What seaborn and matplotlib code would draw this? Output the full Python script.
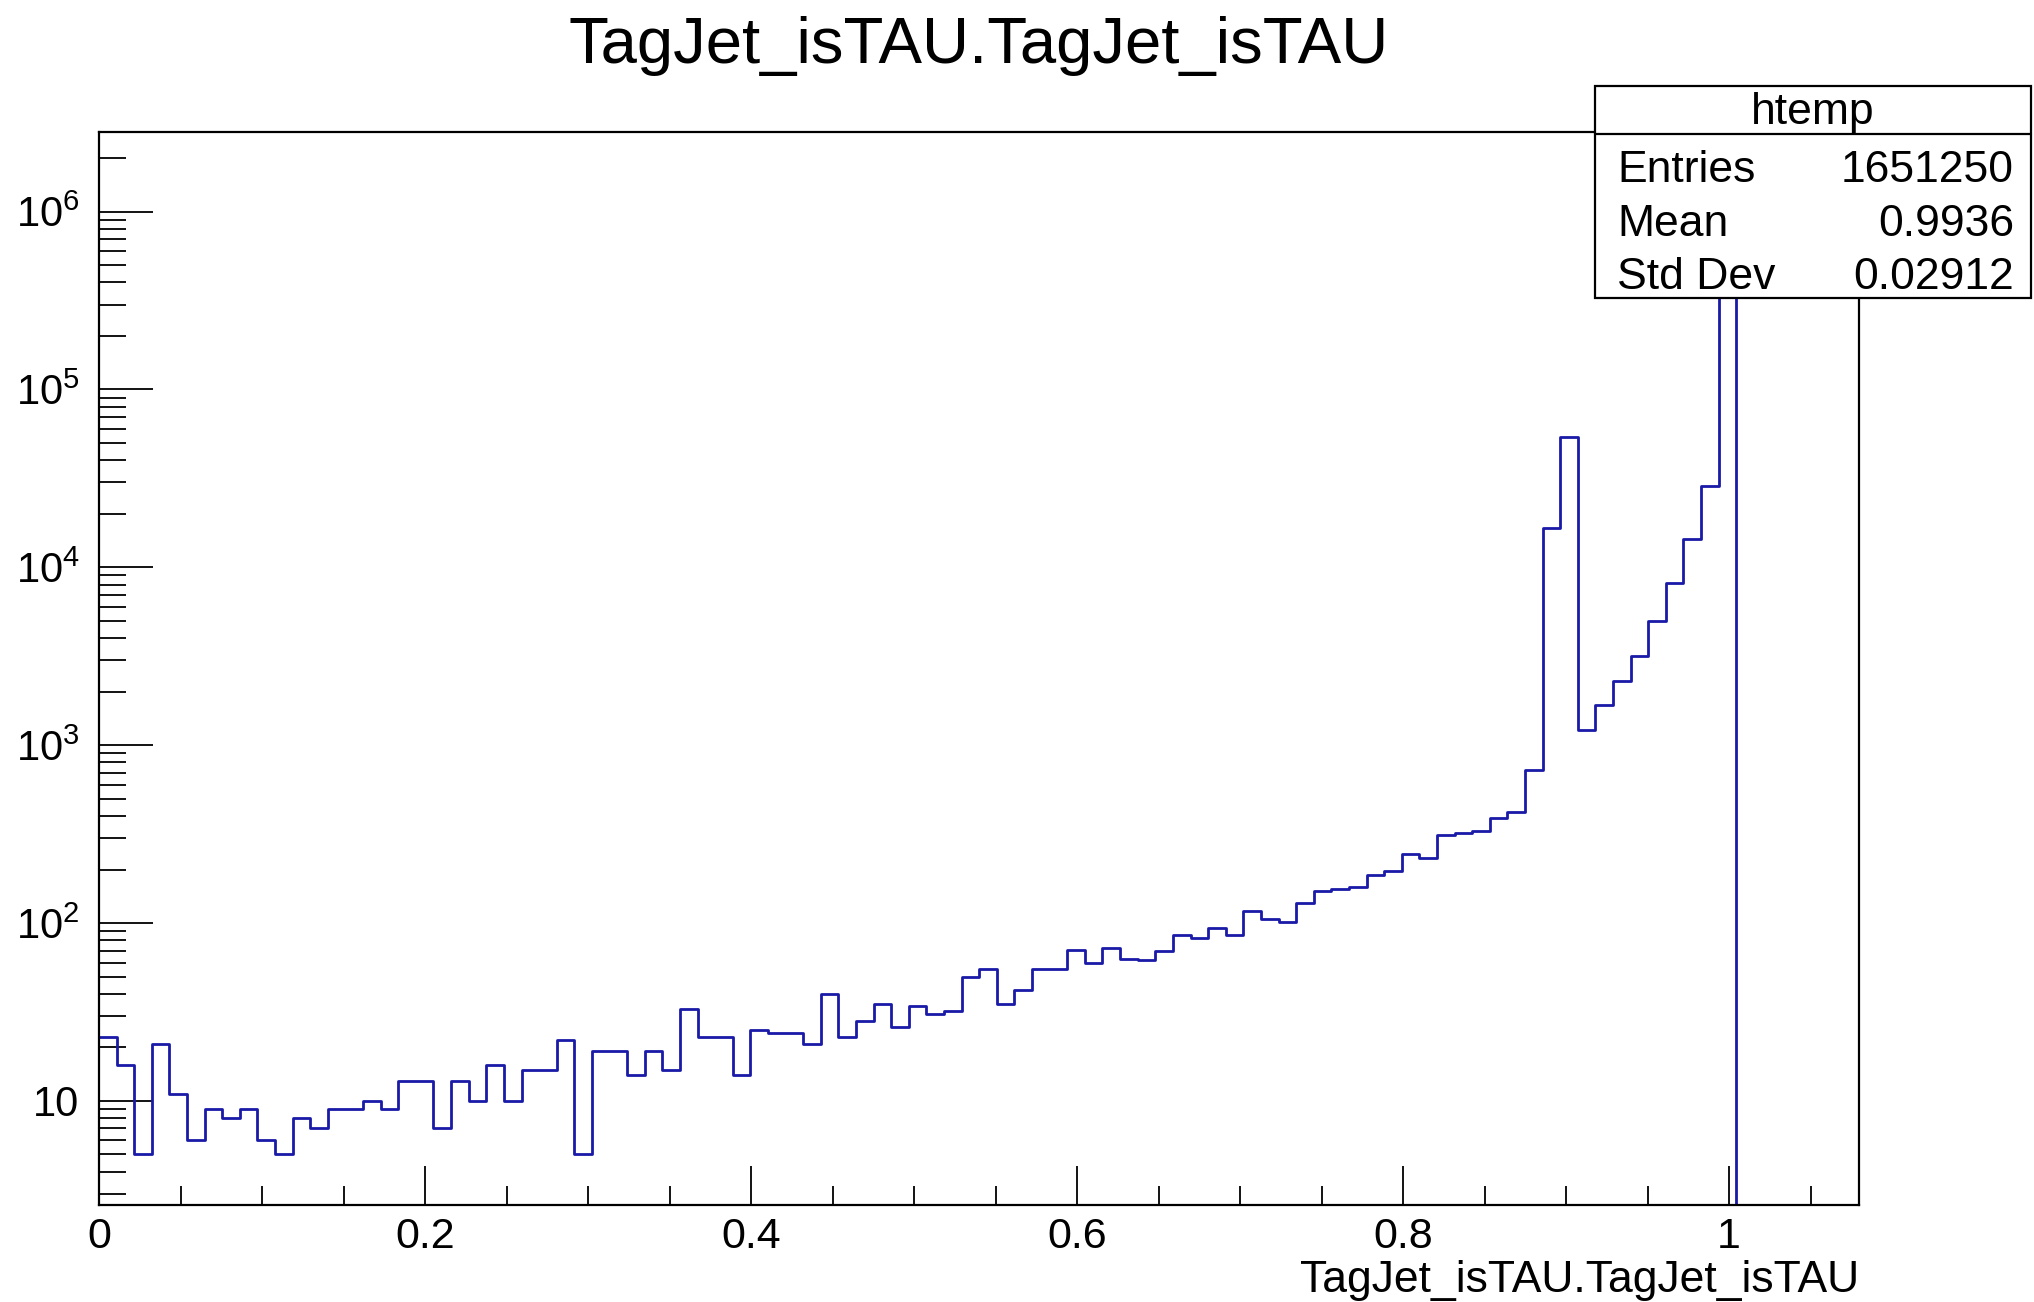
import numpy as np
import pandas as pd
import matplotlib
matplotlib.use("Agg")
import matplotlib.pyplot as plt
from matplotlib.patches import Rectangle
from matplotlib.ticker import FixedLocator, FixedFormatter, LogLocator, NullFormatter, MultipleLocator
import seaborn as sns

# ---------------- data ----------------
title = "TagJet_isTAU.TagJet_isTAU"
x_label = "TagJet_isTAU.TagJet_isTAU"
hist_name = "htemp"
stat_names = ["Entries", "Mean", "Std Dev"]
stat_values = ["1651250", "0.9936", "0.02912"]

n_bins = 100
x_min = 0.0
x_max = 1.08

counts = [
    23, 16, 5, 21, 11, 6, 9, 8, 9, 6,
    5, 8, 7, 9, 9, 10, 9, 13, 13, 7,
    13, 10, 16, 10, 15, 15, 22, 5, 19, 19,
    14, 19, 15, 33, 23, 23, 14, 25, 24, 24,
    21, 40, 23, 28, 35, 26, 34, 31, 32, 50,
    55, 35, 42, 55, 55, 71, 60, 72, 63, 62,
    70, 86, 82, 94, 86, 117, 106, 102, 129, 151,
    155, 159, 187, 197, 243, 233, 313, 322, 330, 391,
    419, 722, 16560, 53800, 1211, 1690, 2286, 3187, 4975, 8170,
    14350, 28640, 1510000, 0, 0, 0, 0, 0, 0, 0,
]

x_tick_values = [0, 0.2, 0.4, 0.6, 0.8, 1.0]
x_tick_labels = ["0", "0.2", "0.4", "0.6", "0.8", "1"]
y_tick_values = [10, 1e2, 1e3, 1e4, 1e5, 1e6]
y_tick_labels = ["10", "$10^{2}$", "$10^{3}$", "$10^{4}$", "$10^{5}$", "$10^{6}$"]

# ---------------- build frame ----------------
edges = np.linspace(x_min, x_max, n_bins + 1)
centers = 0.5 * (edges[:-1] + edges[1:])
df = pd.DataFrame({"x": centers, "w": np.asarray(counts, dtype=float)})

sns.set_theme(style="white")
plt.rcParams["font.family"] = ["Liberation Sans", "DejaVu Sans"]
plt.rcParams["mathtext.fontset"] = "custom"
plt.rcParams["mathtext.rm"] = "Liberation Sans"
plt.rcParams["mathtext.it"] = "Liberation Sans"
plt.rcParams["text.color"] = "black"
plt.rcParams["xtick.color"] = "black"
plt.rcParams["ytick.color"] = "black"
plt.rcParams["xtick.labelcolor"] = "black"
plt.rcParams["ytick.labelcolor"] = "black"

W, H = 2034, 1302
fig = plt.figure(figsize=(W / 100, H / 100), dpi=100)
fig.patch.set_facecolor("white")

L, R, T, B = 99, 1859.5, 132, 1205
ax = fig.add_axes([L / W, 1 - B / H, (R - L) / W, (B - T) / H])
ax.set_facecolor("white")

line_color = "#1a1aa8"
sns.histplot(data=df, x="x", weights="w", bins=n_bins, binrange=(x_min, x_max),
             element="step", fill=False, color=line_color, linewidth=2.0, ax=ax)
ax.set_yscale("log")
ax.set_xlim(x_min, x_max)
ax.set_ylim(2.6, 2.8e6)

# ticks ROOT style
ax.xaxis.set_major_locator(FixedLocator(x_tick_values))
ax.xaxis.set_major_formatter(FixedFormatter(x_tick_labels))
ax.xaxis.set_minor_locator(MultipleLocator(0.05))
ax.yaxis.set_major_locator(FixedLocator(y_tick_values))
ax.yaxis.set_major_formatter(FixedFormatter(y_tick_labels))
ax.yaxis.set_minor_locator(LogLocator(base=10, subs=np.arange(2, 10), numticks=20))
ax.yaxis.set_minor_formatter(NullFormatter())

ax.tick_params(axis="x", which="major", direction="in", length=28, width=1.3,
               labelsize=31, pad=9, colors="black", bottom=True, top=False)
ax.tick_params(axis="x", which="minor", direction="in", length=14, width=1.3,
               bottom=True, top=False)
ax.tick_params(axis="y", which="major", direction="in", length=39, width=1.3,
               labelsize=30, pad=14, colors="black", left=True, right=False)
ax.tick_params(axis="y", which="minor", direction="in", length=19.5, width=1.3,
               left=True, right=False)
for s in ax.spines.values():
    s.set_visible(True)
    s.set_color("black")
    s.set_linewidth(1.6)

ax.set_xlabel("")
ax.set_ylabel("")

# x axis title, right aligned
fig.text(R / W, 1 - 1292 / H, x_label, ha="right", va="baseline", fontsize=32,
         color="black")

# title
fig.text(979 / W, 1 - 63 / H, title, ha="center", va="baseline", fontsize=47,
         color="black")

# stats box
bx0, bx1, by0, by1, bsep = 1595, 2031, 86, 298, 134
box = Rectangle((bx0 / W, 1 - by1 / H), (bx1 - bx0) / W, (by1 - by0) / H,
                transform=fig.transFigure, facecolor="white", edgecolor="black",
                linewidth=1.6, zorder=10)
fig.add_artist(box)
fig.add_artist(plt.Line2D([bx0 / W, bx1 / W], [1 - bsep / H, 1 - bsep / H],
                          transform=fig.transFigure, color="black", linewidth=1.6, zorder=11))
fig.text((bx0 + bx1) / 2 / W, 1 - 124 / H, hist_name, ha="center", va="baseline",
         fontsize=32, zorder=12, color="black")
row_y = [182, 236, 289]
for name, val, yy in zip(stat_names, stat_values, row_y):
    fig.text(1617 / W, 1 - yy / H, name, ha="left", va="baseline", fontsize=32,
             zorder=12, color="black")
    fig.text(2014 / W, 1 - yy / H, val, ha="right", va="baseline", fontsize=32,
             zorder=12, color="black")

fig.savefig("out.png", dpi=100, facecolor="white")
